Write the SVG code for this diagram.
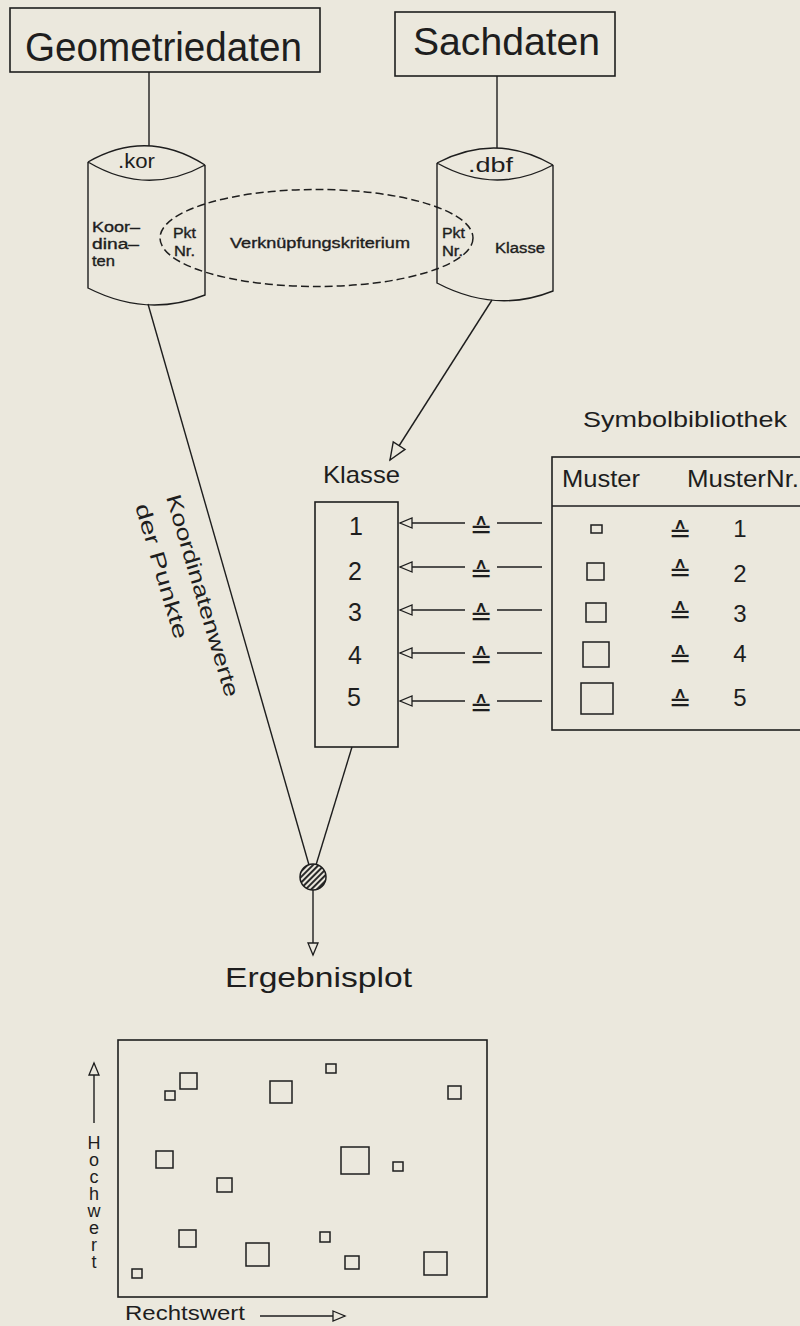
<svg xmlns="http://www.w3.org/2000/svg" width="800" height="1326" viewBox="0 0 800 1326">
  <style>
    .ln { fill: none; stroke: #1e1e1e; stroke-width: 1.4; }
    .box { fill: none; stroke: #1e1e1e; stroke-width: 1.6; }
    .dash { fill: none; stroke: #1e1e1e; stroke-width: 1.5; stroke-dasharray: 8 4; }
    .t { font-family: "Liberation Sans", Arial, sans-serif; fill: #1e1e1e; }
    .sm { font-family: "Liberation Sans", Arial, sans-serif; fill: #1e1e1e; font-size: 14px; stroke: #1e1e1e; stroke-width: 0.35; }
    .eq { font-family: "DejaVu Sans", sans-serif; fill: #1e1e1e; font-size: 27px; text-anchor: middle; }
    .sq { fill: none; stroke: #1e1e1e; stroke-width: 1.5; }
    .vert { writing-mode: vertical-rl; text-orientation: upright; letter-spacing: -3px; }
  </style>
  <defs>
    <marker id="tri" markerUnits="userSpaceOnUse" markerWidth="16" markerHeight="14" refX="12" refY="5" orient="auto" overflow="visible">
      <path d="M0,0 L12,5 L0,10 Z" fill="#ebe8dd" stroke="#1e1e1e" stroke-width="1.3"/>
    </marker>
    <marker id="triBig" markerUnits="userSpaceOnUse" markerWidth="20" markerHeight="18" refX="17" refY="7" orient="auto" overflow="visible">
      <path d="M0,0 L17,7 L0,14 Z" fill="#ebe8dd" stroke="#1e1e1e" stroke-width="1.4"/>
    </marker>
    <pattern id="hatch" patternUnits="userSpaceOnUse" width="4" height="4" patternTransform="rotate(-45)">
      <rect width="4" height="4" fill="#ebe8dd"/>
      <rect width="4" height="2" fill="#2a2a2a"/>
    </pattern>
  </defs>

  <rect width="800" height="1326" fill="#ebe8dd"/>

  <!-- connectors -->
  <g id="connectors">
    <line class="ln" x1="149" y1="72" x2="149" y2="146"/>
    <line class="ln" x1="497" y1="76" x2="497" y2="148"/>
    <line class="ln" x1="148" y1="304" x2="309" y2="865"/>
    <line class="ln" x1="492" y1="300" x2="390" y2="460" marker-end="url(#triBig)"/>
    <line class="ln" x1="352" y1="747" x2="316" y2="865"/>
    <line class="ln" x1="313" y1="890" x2="313" y2="955" marker-end="url(#tri)"/>
    <!-- Klasse links -->
    <g id="class-links">
      <line class="ln" x1="542" y1="523" x2="497" y2="523"/>
      <line class="ln" x1="465" y1="523" x2="400" y2="523" marker-end="url(#tri)"/>
      <text class="eq" x="481" y="538">≙</text>
      <line class="ln" x1="542" y1="567" x2="497" y2="567"/>
      <line class="ln" x1="465" y1="567" x2="400" y2="567" marker-end="url(#tri)"/>
      <text class="eq" x="481" y="582">≙</text>
      <line class="ln" x1="542" y1="610" x2="497" y2="610"/>
      <line class="ln" x1="465" y1="610" x2="400" y2="610" marker-end="url(#tri)"/>
      <text class="eq" x="481" y="625">≙</text>
      <line class="ln" x1="542" y1="653" x2="497" y2="653"/>
      <line class="ln" x1="465" y1="653" x2="400" y2="653" marker-end="url(#tri)"/>
      <text class="eq" x="481" y="668">≙</text>
      <line class="ln" x1="542" y1="701" x2="497" y2="701"/>
      <line class="ln" x1="465" y1="701" x2="400" y2="701" marker-end="url(#tri)"/>
      <text class="eq" x="481" y="716">≙</text>
    </g>
    <!-- coordinate label along the connector -->
    <text class="t" font-size="21" transform="translate(166,497) rotate(73.5)" textLength="210" lengthAdjust="spacingAndGlyphs">Koordinatenwerte</text>
    <text class="t" font-size="21" transform="translate(135,506) rotate(73.5)" textLength="140" lengthAdjust="spacingAndGlyphs">der Punkte</text>
  </g>

  <!-- source boxes -->
  <g id="geometriedaten">
    <rect class="box" x="10" y="8" width="310" height="64"/>
    <text class="t" x="25" y="61" font-size="40" textLength="277" lengthAdjust="spacingAndGlyphs">Geometriedaten</text>
  </g>
  <g id="sachdaten">
    <rect class="box" x="395" y="12" width="220" height="64"/>
    <text class="t" x="413" y="55" font-size="38" textLength="187" lengthAdjust="spacingAndGlyphs">Sachdaten</text>
  </g>

  <!-- data files -->
  <g id="kor">
    <path class="ln" d="M88,162 Q147,128 205,165 M88,162 Q147,197 205,165 M88,162 L88,288 Q147,318 205,295 L205,165"/>
    <text class="t" x="118" y="168" font-size="20" textLength="37" lengthAdjust="spacingAndGlyphs">.kor</text>
    <text class="sm" x="92" y="232" textLength="48" lengthAdjust="spacingAndGlyphs">Koor–</text>
    <text class="sm" x="92" y="249" textLength="47" lengthAdjust="spacingAndGlyphs">dina–</text>
    <text class="sm" x="92" y="266" textLength="23" lengthAdjust="spacingAndGlyphs">ten</text>
    <text class="sm" x="173" y="238" textLength="23" lengthAdjust="spacingAndGlyphs">Pkt</text>
    <text class="sm" x="174" y="256" textLength="21" lengthAdjust="spacingAndGlyphs">Nr.</text>
  </g>
  <g id="dbf">
    <path class="ln" d="M437,163 Q496,132 553,165 M437,163 Q496,196 553,165 M437,163 L437,283 Q496,314 553,291 L553,165"/>
    <text class="t" x="468" y="172" font-size="20" textLength="45" lengthAdjust="spacingAndGlyphs">.dbf</text>
    <text class="sm" x="442" y="238" textLength="23" lengthAdjust="spacingAndGlyphs">Pkt</text>
    <text class="sm" x="442" y="256" textLength="21" lengthAdjust="spacingAndGlyphs">Nr.</text>
    <text class="sm" x="495" y="253" textLength="50" lengthAdjust="spacingAndGlyphs">Klasse</text>
  </g>
  <g id="link-criterion">
    <ellipse class="dash" cx="316.5" cy="238" rx="156.5" ry="48.5"/>
    <text class="sm" x="230" y="248" textLength="180" lengthAdjust="spacingAndGlyphs">Verknüpfungskriterium</text>
  </g>

  <!-- class column -->
  <g id="klasse">
    <text class="t" x="323" y="483" font-size="24" textLength="77" lengthAdjust="spacingAndGlyphs">Klasse</text>
    <rect class="box" x="315" y="502" width="83" height="245"/>
    <g class="t" font-size="25" text-anchor="middle">
      <text x="356" y="535">1</text>
      <text x="355" y="580">2</text>
      <text x="355" y="621">3</text>
      <text x="355" y="664">4</text>
      <text x="354" y="706">5</text>
    </g>
  </g>

  <!-- symbol library -->
  <g id="symbolbibliothek">
    <text class="t" x="583" y="427" font-size="22" textLength="204" lengthAdjust="spacingAndGlyphs">Symbolbibliothek</text>
    <rect class="box" x="552" y="457" width="260" height="273"/>
    <line class="box" x1="552" y1="506" x2="812" y2="506"/>
    <text class="t" x="562" y="487" font-size="24" textLength="78" lengthAdjust="spacingAndGlyphs">Muster</text>
    <text class="t" x="687" y="487" font-size="24" textLength="112" lengthAdjust="spacingAndGlyphs">MusterNr.</text>
    <rect class="sq" x="591" y="525" width="11" height="8"/>
    <rect class="sq" x="587" y="563" width="17" height="17"/>
    <rect class="sq" x="586" y="603" width="20" height="19"/>
    <rect class="sq" x="583" y="642" width="26" height="25"/>
    <rect class="sq" x="581" y="683" width="32" height="31"/>
    <text class="eq" x="680" y="542">≙</text>
    <text class="eq" x="680" y="581">≙</text>
    <text class="eq" x="680" y="623">≙</text>
    <text class="eq" x="680" y="667">≙</text>
    <text class="eq" x="680" y="711">≙</text>
    <g class="t" font-size="24" text-anchor="middle">
      <text x="740" y="537">1</text>
      <text x="740" y="582">2</text>
      <text x="740" y="622">3</text>
      <text x="740" y="662">4</text>
      <text x="740" y="706">5</text>
    </g>
  </g>

  <!-- merge point -->
  <g id="merge">
    <circle cx="313" cy="877" r="13" fill="url(#hatch)" stroke="#1e1e1e" stroke-width="1.5"/>
  </g>

  <!-- result plot -->
  <g id="ergebnisplot">
    <text class="t" x="225" y="987" font-size="28" textLength="187" lengthAdjust="spacingAndGlyphs">Ergebnisplot</text>
    <rect class="box" x="118" y="1040" width="369" height="257"/>
    <rect class="sq" x="165" y="1091" width="10" height="9"/>
    <rect class="sq" x="180" y="1073" width="17" height="16"/>
    <rect class="sq" x="270" y="1081" width="22" height="22"/>
    <rect class="sq" x="326" y="1064" width="10" height="9"/>
    <rect class="sq" x="448" y="1086" width="13" height="13"/>
    <rect class="sq" x="156" y="1151" width="17" height="17"/>
    <rect class="sq" x="341" y="1147" width="28" height="27"/>
    <rect class="sq" x="393" y="1162" width="10" height="9"/>
    <rect class="sq" x="217" y="1178" width="15" height="14"/>
    <rect class="sq" x="179" y="1230" width="17" height="17"/>
    <rect class="sq" x="246" y="1243" width="23" height="23"/>
    <rect class="sq" x="320" y="1232" width="10" height="10"/>
    <rect class="sq" x="345" y="1256" width="14" height="13"/>
    <rect class="sq" x="424" y="1252" width="23" height="23"/>
    <rect class="sq" x="132" y="1269" width="10" height="9"/>
    <!-- axes -->
    <line class="ln" x1="94" y1="1123" x2="94" y2="1063" marker-end="url(#tri)"/>
    <text class="t vert" x="94" y="1133" font-size="18">Hochwert</text>
    <text class="t" x="125" y="1320" font-size="20" textLength="120" lengthAdjust="spacingAndGlyphs">Rechtswert</text>
    <line class="ln" x1="260" y1="1316" x2="345" y2="1316" marker-end="url(#tri)"/>
  </g>
</svg>
